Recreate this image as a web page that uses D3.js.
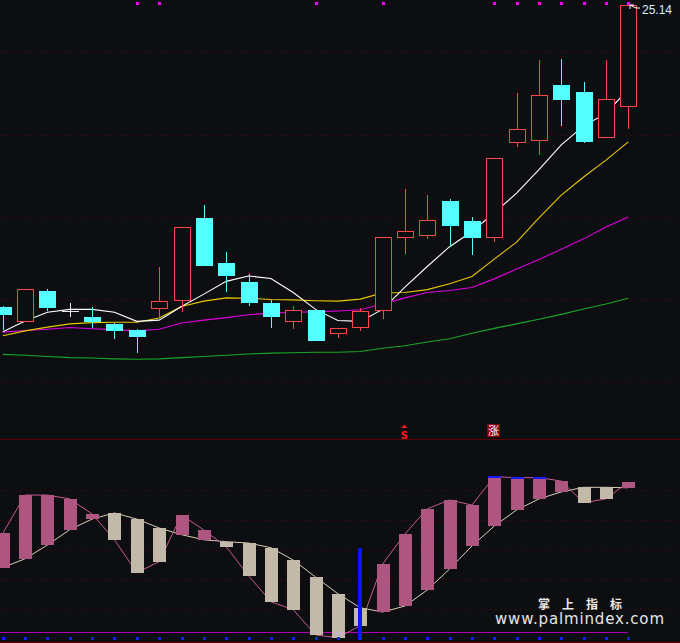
<!DOCTYPE html>
<html><head><meta charset="utf-8">
<script src="https://cdn.jsdelivr.net/npm/d3@7"></script>
<style>html,body{margin:0;padding:0;background:#0d0e11;overflow:hidden}</style>
</head><body><svg id="c" width="680" height="643"></svg>
<script>
// ---------- data ----------
const opens  = [17.83,17.46,18.21,17.71,17.58,17.41,17.26,17.76,17.96,19.98,18.88,18.42,17.92,17.45,17.75,17.16,17.30,17.71,19.48,19.53,20.39,19.90,19.48,21.79,21.84,23.20,23.03,21.91,22.67];
const highs  = [17.85,18.25,18.25,17.91,17.82,17.44,17.29,18.79,19.75,20.29,19.15,18.62,17.99,17.84,17.75,17.30,17.79,19.51,20.68,20.53,20.44,20.00,21.43,23.01,23.81,23.83,23.27,23.81,25.14];
const lows   = [17.26,17.46,17.73,17.58,17.32,17.05,16.71,17.58,17.70,18.82,18.19,17.85,17.32,17.29,17.00,17.07,17.24,17.53,19.11,19.47,19.31,19.09,19.39,21.70,21.50,22.21,21.80,21.91,22.14];
const closes = [17.62,18.25,17.80,17.71,17.45,17.24,17.10,17.96,19.75,18.82,18.58,17.92,17.58,17.75,17.00,17.30,17.72,19.51,19.65,19.92,19.79,19.50,21.43,22.13,22.95,22.84,21.83,22.85,25.14];

const ma5  = [17.22,17.48,17.69,17.76,17.76,17.69,17.47,17.50,17.83,18.13,18.44,18.57,18.51,18.17,17.76,17.49,17.47,17.76,18.30,18.80,19.28,19.65,20.10,20.58,21.15,21.75,22.21,22.51,23.10];
const ma10 = [17.12,17.24,17.33,17.41,17.44,17.45,17.45,17.55,17.83,17.96,18.04,18.03,18.00,17.99,17.97,17.96,18.01,18.16,18.17,18.24,18.38,18.56,18.98,19.39,19.98,20.53,20.97,21.38,21.82];
const ma20 = [17.21,17.25,17.28,17.32,17.29,17.27,17.24,17.28,17.43,17.50,17.56,17.63,17.67,17.69,17.70,17.72,17.75,17.89,18.04,18.17,18.22,18.29,18.50,18.74,18.97,19.22,19.47,19.76,20.00];
const ma60 = [16.67,16.65,16.62,16.59,16.58,16.56,16.55,16.56,16.59,16.62,16.65,16.68,16.70,16.71,16.72,16.72,16.74,16.82,16.88,16.97,17.05,17.18,17.30,17.41,17.52,17.64,17.77,17.89,18.03];

const fastLine = [70.9,96.6,96.6,94.0,83.9,66.6,44.5,51.9,83.2,73.2,61.9,42.5,25.0,19.7,2.7,0.9,8.9,50.3,70.5,87.4,93.3,89.9,108.9,108.3,108.3,106.0,91.5,94.0,105.4];
const slowLine = [47.9,53.9,63.1,73.4,80.5,84.6,80.5,74.5,70.0,66.6,65.3,64.4,61.3,53.0,41.6,30.4,21.0,18.1,22.1,32.9,47.0,62.4,75.8,86.6,94.0,98.7,101.8,101.8,101.5];

const topDots   = [6,7,14,17,22,23,24,25,26,27,28];
const capFlags  = [22,23,24];
const signalIdx = 16, signalTop = 61;
const buyIdx = 18, riseIdx = 22;
const priceGrid = [16,18,20,22,24];
const indGrid   = [20,40,60,80,100];
const indRef    = 5;
const lastLabel = "25.14";
const wmCn = "掌 上 指 标", wmUrl = "www.palmindex.com";

// ---------- setup ----------
const svg = d3.select("#c");
const N = closes.length;
const BG = "#0d0e11";
const x = d3.scaleLinear().domain([0, N-1]).range([2.8, 628.3]);
const y = d3.scaleLinear().domain([16, 24]).range([382, 52]);
const yi = d3.scaleLinear().domain([0, 100]).range([639, 490]);
const cx = i => Math.round(x(i));
const idx = d3.range(N);

svg.append("rect").attr("width",680).attr("height",643).attr("fill",BG);

const GRID = "#3a0909";
svg.append("g").selectAll("line").data(priceGrid).join("line")
  .attr("x1",0).attr("x2",680)
  .attr("y1",d=>Math.round(y(d))+0.5).attr("y2",d=>Math.round(y(d))+0.5)
  .attr("stroke",GRID).attr("stroke-dasharray","2,3");
svg.append("g").selectAll("line").data(indGrid).join("line")
  .attr("x1",0).attr("x2",680)
  .attr("y1",d=>Math.round(yi(d))+0.5).attr("y2",d=>Math.round(yi(d))+0.5)
  .attr("stroke",GRID).attr("stroke-dasharray","2,3");
svg.append("line").attr("x1",0).attr("x2",680).attr("y1",439.5).attr("y2",439.5).attr("stroke","#5a0000");
svg.append("line").attr("x1",0).attr("x2",680).attr("y1",642.5).attr("y2",642.5).attr("stroke","#6a0000");

// ---------- MA lines ----------
const line = arr => d3.line().x((d,i)=>x(i)).y(d=>y(d))(arr);
[[ma60,"#18a828"],[ma20,"#e000e0"],[ma10,"#e8c800"],[ma5,"#ffffff"]].forEach(([a,c])=>{
  svg.append("path").attr("d",line(a)).attr("fill","none").attr("stroke",c).attr("stroke-width",1.1);
});

// ---------- candles ----------
const RED = "#ff4545", CYAN = "#54ffff";
const cg = svg.append("g").attr("shape-rendering","crispEdges");
idx.forEach(i=>{
  const o=opens[i], c=closes[i], h=highs[i], l=lows[i];
  const X = cx(i);
  const top = Math.round(y(Math.max(o,c))), bot = Math.round(y(Math.min(o,c)));
  if (c > o) {
    cg.append("line").attr("x1",X+0.5).attr("x2",X+0.5).attr("y1",Math.round(y(h))).attr("y2",top).attr("stroke",RED);
    cg.append("line").attr("x1",X+0.5).attr("x2",X+0.5).attr("y1",bot).attr("y2",Math.round(y(l))).attr("stroke",RED);
    cg.append("rect").attr("x",X-7.5).attr("y",top+0.5).attr("width",16).attr("height",Math.max(1,bot-top-1))
      .attr("fill",BG).attr("stroke",RED).attr("stroke-width",1);
  } else if (c < o) {
    cg.append("line").attr("x1",X+0.5).attr("x2",X+0.5).attr("y1",Math.round(y(h))).attr("y2",Math.round(y(l))).attr("stroke",CYAN);
    cg.append("rect").attr("x",X-8).attr("y",top).attr("width",17).attr("height",Math.max(1,bot-top))
      .attr("fill",CYAN);
  } else {
    cg.append("line").attr("x1",X+0.5).attr("x2",X+0.5).attr("y1",Math.round(y(h))).attr("y2",Math.round(y(l))).attr("stroke","#e8e8e8");
    cg.append("line").attr("x1",X-8).attr("x2",X+9).attr("y1",top+0.5).attr("y2",top+0.5).attr("stroke","#e8e8e8");
  }
});

// top magenta dots
svg.append("g").selectAll("rect").data(topDots).join("rect")
  .attr("x",d=>cx(d)-1).attr("y",2).attr("width",3).attr("height",3).attr("fill","#ff00ff");

// last price label with arrow
const tipX = cx(N-1)+2, tipY = Math.round(y(highs[N-1]));
svg.append("path").attr("d",`M${tipX},${tipY} L${tipX+6},${tipY+3} L${tipX+10},${tipY+3}`)
  .attr("fill","none").attr("stroke","#ffffff").attr("stroke-width",1);
svg.append("path").attr("d",`M${tipX+4},${tipY} L${tipX},${tipY} L${tipX},${tipY+4}`)
  .attr("fill","none").attr("stroke","#ffffff").attr("stroke-width",1);
svg.append("text").attr("x",642).attr("y",14).text(lastLabel)
  .attr("fill","#dceeff").attr("font-family","Liberation Sans, Arial, sans-serif").attr("font-size",12);

// ---------- lower panel ----------
const lg = svg.append("g");
lg.append("line").attr("x1",0).attr("x2",cx(N-1)).attr("y1",Math.round(yi(indRef))+0.5).attr("y2",Math.round(yi(indRef))+0.5)
  .attr("stroke","#b400b4").attr("stroke-width",1);
const iline = arr => d3.line().x((d,i)=>x(i)).y(d=>yi(d))(arr);
lg.append("path").attr("d",iline(slowLine)).attr("fill","none").attr("stroke","#d8ccb4").attr("stroke-width",1);
lg.append("path").attr("d",iline(fastLine)).attr("fill","none").attr("stroke","#c85a90").attr("stroke-width",1);
idx.forEach(i=>{
  const P=fastLine[i], B=slowLine[i];
  const t=Math.round(yi(Math.max(P,B))), b=Math.round(yi(Math.min(P,B)));
  lg.append("rect").attr("x",cx(i)-6).attr("y",t).attr("width",13).attr("height",Math.max(1,b-t))
    .attr("fill", P>B ? "#ae5580" : "#c3b9a8");
});
capFlags.forEach(i=>{
  lg.append("rect").attr("x",cx(i)-6).attr("y",Math.round(yi(fastLine[i]))-1).attr("width",13).attr("height",2).attr("fill","#1a1aff");
});
lg.append("rect").attr("x",Math.round(x(signalIdx))-2).attr("y",yi(signalTop)).attr("width",4).attr("height",640-yi(signalTop)).attr("fill","#0a14ff");
lg.selectAll(".bs").data(idx).join("rect").attr("class","bs")
  .attr("x",d=>cx(d)-1).attr("y",637).attr("width",3).attr("height",3).attr("fill","#1020ff");

// signal markers above lower panel
const bx = x(buyIdx)-0.5;
svg.append("path").attr("d",`M${bx-3},428 L${bx},424.5 L${bx+3},428 Z`).attr("fill","#ff1a1a");
svg.append("text").attr("x",bx).attr("y",438.5).attr("text-anchor","middle").text("S")
  .attr("fill","#ff1a1a").attr("font-family","DejaVu Sans, sans-serif").attr("font-weight","bold").attr("font-size",10);
const rx = cx(riseIdx)-7;
svg.append("rect").attr("x",rx).attr("y",424).attr("width",13).attr("height",13).attr("fill","#8c0000");
svg.append("text").attr("x",rx+6.5).attr("y",435).attr("text-anchor","middle").text("涨")
  .attr("fill","#ffffff").attr("font-family","Noto Sans CJK SC, sans-serif").attr("font-size",11);

// watermark
svg.append("text").attr("x",538).attr("y",608.5).text(wmCn).attr("textLength",84).attr("lengthAdjust","spacing")
  .attr("fill","#e8e8e8").attr("font-family","Noto Sans CJK SC, sans-serif").attr("font-weight","bold").attr("font-size",12);
svg.append("text").attr("x",495).attr("y",623.5).text(wmUrl).attr("textLength",169).attr("lengthAdjust","spacing")
  .attr("fill","#e6e6e6").attr("font-family","DejaVu Sans, sans-serif").attr("font-size",15);
</script></body></html>
